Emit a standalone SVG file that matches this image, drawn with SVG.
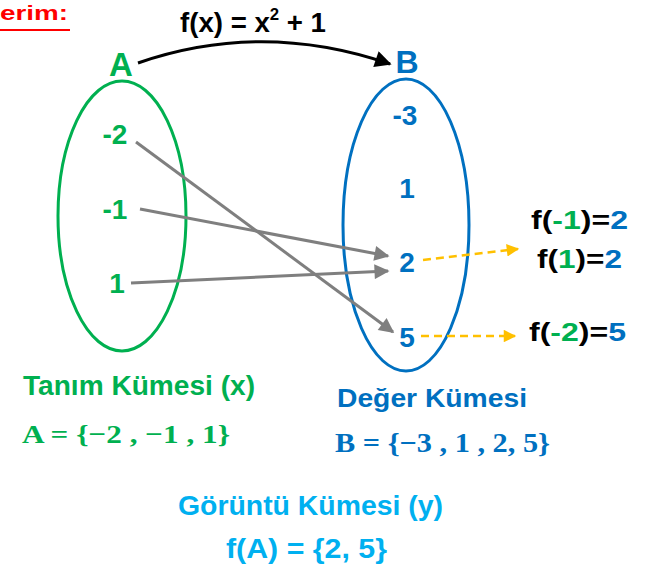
<svg xmlns="http://www.w3.org/2000/svg" width="645" height="568" viewBox="0 0 645 568">
<style>
text{font-family:"Liberation Sans","DejaVu Sans",sans-serif;font-weight:bold}
.g{fill:#00B050}.b{fill:#0070C0}.k{fill:#000}.lb{fill:#00B0F0}
.el{font-size:28px;text-anchor:middle}
.serif{font-family:"Liberation Serif","DejaVu Serif",serif}
.gray{stroke:#7F7F7F;stroke-width:3;fill:none;marker-end:url(#ag)}
.yel{stroke:#FFC000;stroke-width:2.5;stroke-dasharray:8 5;fill:none;marker-end:url(#ay)}
</style>
<defs>
<marker id="ag" viewBox="0 0 10 10" refX="9" refY="5" markerWidth="6" markerHeight="5" orient="auto" markerUnits="strokeWidth"><path d="M0,0 L10,5 L0,10 z" fill="#7F7F7F"/></marker>
<marker id="ay" viewBox="0 0 10 10" refX="9" refY="5" markerWidth="6" markerHeight="5" orient="auto" markerUnits="strokeWidth"><path d="M0,0 L10,5 L0,10 z" fill="#FFC000"/></marker>
<marker id="ak" viewBox="0 0 10 10" refX="9" refY="5" markerWidth="6.5" markerHeight="5.5" orient="auto" markerUnits="strokeWidth"><path d="M0,0 L10,5 L0,10 z" fill="#000"/></marker>
</defs>
<g id="title">
<text x="0" y="20" font-size="21" fill="#FF0000" textLength="68" lengthAdjust="spacingAndGlyphs">erim:</text>
<line x1="0" y1="30" x2="70" y2="30" stroke="#FF0000" stroke-width="2"/>
</g>
<g id="formula"><text x="180" y="32" font-size="28" class="k" textLength="146" lengthAdjust="spacingAndGlyphs">f(x) = x<tspan font-size="17" dy="-12">2</tspan><tspan dy="12"> + 1</tspan></text></g>
<g id="setA">
<ellipse cx="122" cy="216" rx="64" ry="135" fill="none" stroke="#00B050" stroke-width="3"/>
<text x="121" y="76" font-size="33" text-anchor="middle" class="g">A</text>
<text x="115" y="144" class="el g">-2</text>
<text x="115" y="219" class="el g">-1</text>
<text x="117" y="293" class="el g">1</text>
</g>
<g id="setB">
<ellipse cx="406" cy="225" rx="63" ry="146" fill="none" stroke="#0070C0" stroke-width="3"/>
<text x="407" y="73" font-size="32" text-anchor="middle" class="b">B</text>
<text x="405" y="125" class="el b">-3</text>
<text x="407" y="198" class="el b">1</text>
<text x="407" y="272" class="el b">2</text>
<text x="407" y="347" class="el b">5</text>
</g>
<g id="connectors">
<path d="M138,63 Q262,20 390,64" stroke="#000" stroke-width="3" fill="none" marker-end="url(#ak)"/>
<line x1="136" y1="142" x2="393" y2="332" class="gray"/>
<line x1="140" y1="209" x2="388" y2="256" class="gray"/>
<line x1="131" y1="283" x2="388" y2="271" class="gray"/>
<line x1="423" y1="260" x2="518" y2="249" class="yel"/>
<line x1="421" y1="336" x2="515" y2="336" class="yel"/>
</g>
<g id="results">
<text x="531" y="229" font-size="25" class="k" textLength="97" lengthAdjust="spacingAndGlyphs">f(<tspan class="g">-1</tspan>)=<tspan class="b">2</tspan></text>
<text x="537" y="268" font-size="25" class="k" textLength="85" lengthAdjust="spacingAndGlyphs">f(<tspan class="g">1</tspan>)=<tspan class="b">2</tspan></text>
<text x="529" y="341" font-size="25" class="k" textLength="97" lengthAdjust="spacingAndGlyphs">f(<tspan class="g">-2</tspan>)=<tspan class="b">5</tspan></text>
</g>
<g id="domain">
<text x="23" y="395" font-size="27" class="g" textLength="232" lengthAdjust="spacingAndGlyphs">Tanım Kümesi (x)</text>
<text x="22" y="443" font-size="26" class="g serif" textLength="208" lengthAdjust="spacingAndGlyphs">A = {−2 , −1 , 1}</text>
</g>
<g id="codomain">
<text x="337" y="407" font-size="26" class="b" textLength="190" lengthAdjust="spacingAndGlyphs">Değer Kümesi</text>
<text x="335" y="452" font-size="27" class="b serif" textLength="215" lengthAdjust="spacingAndGlyphs">B = {−3 , 1 , 2, 5}</text>
</g>
<g id="image">
<text x="178" y="515" font-size="27" class="lb" textLength="265" lengthAdjust="spacingAndGlyphs">Görüntü Kümesi (y)</text>
<text x="226" y="558" font-size="28" class="lb" textLength="161" lengthAdjust="spacingAndGlyphs">f(A) = {2, 5}</text>
</g>
</svg>
